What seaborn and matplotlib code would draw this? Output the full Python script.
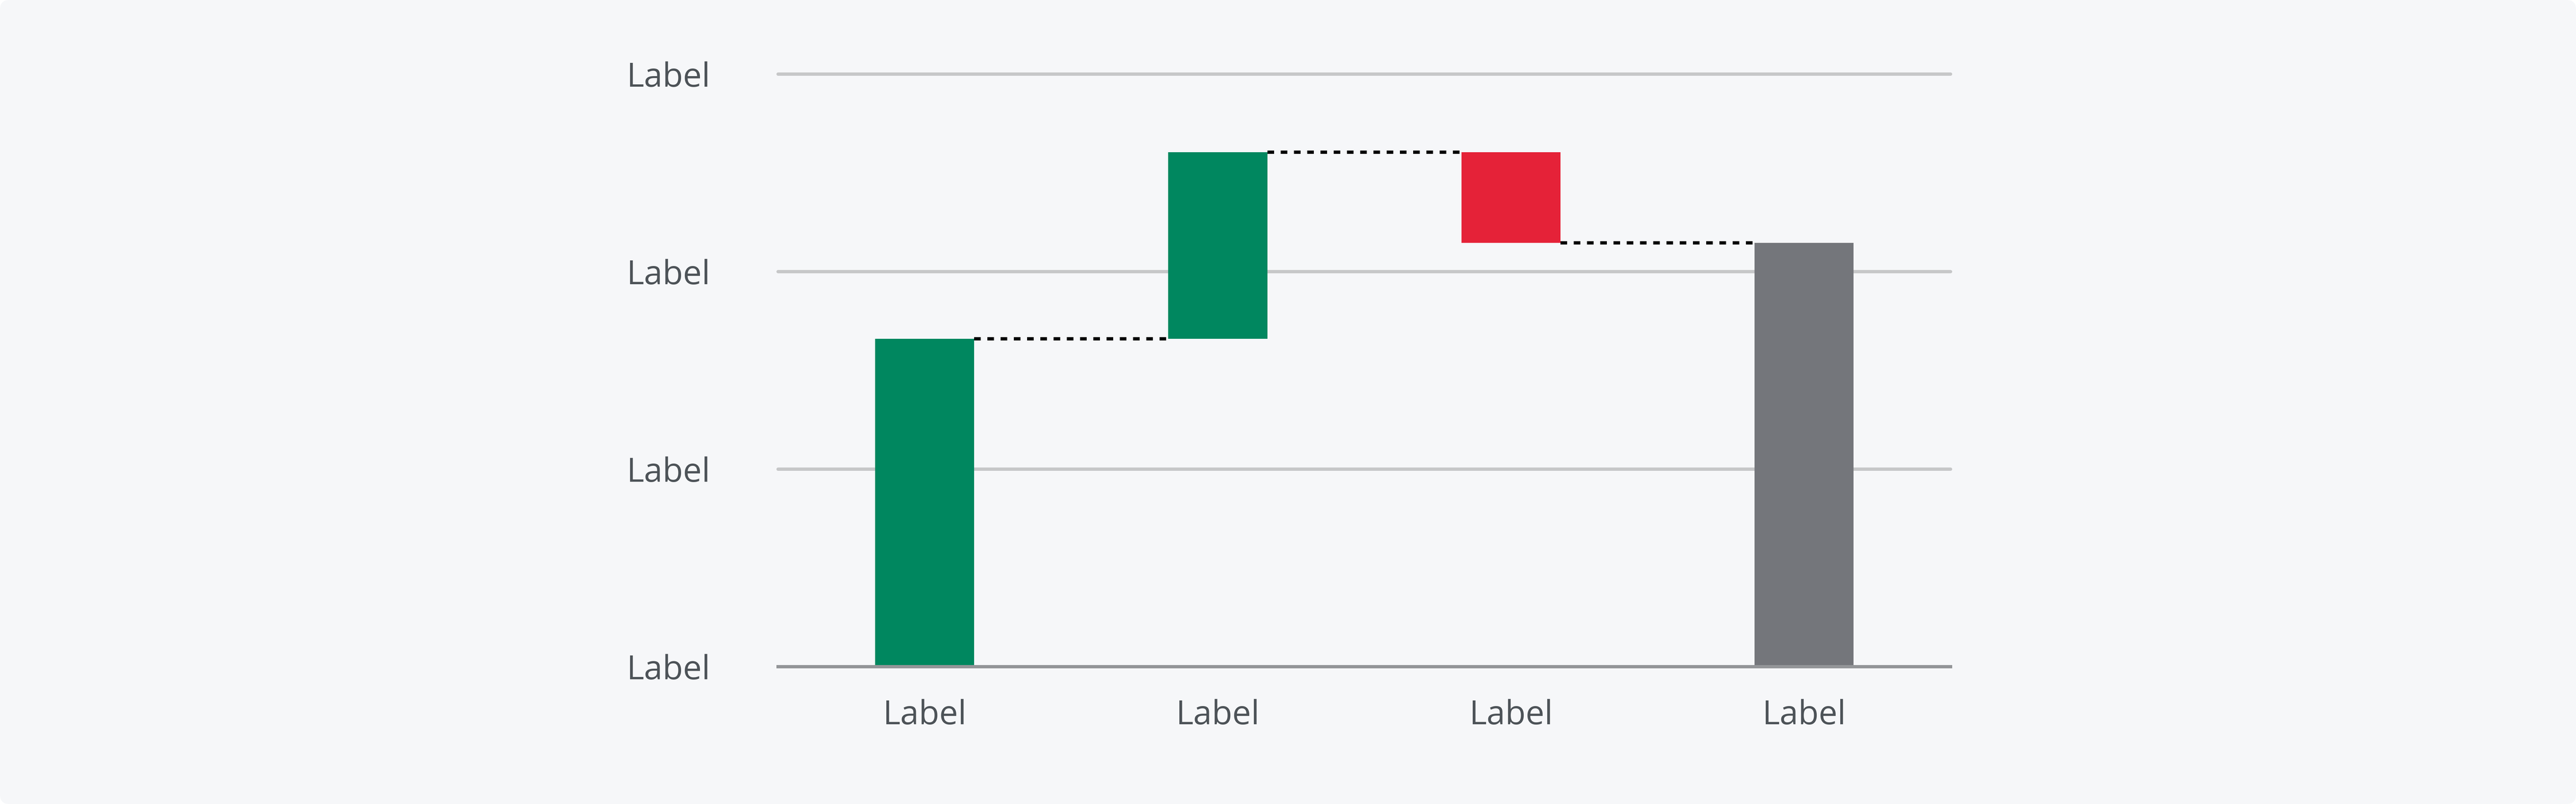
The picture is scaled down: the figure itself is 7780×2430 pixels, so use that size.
import pandas as pd
import seaborn as sns
import matplotlib.pyplot as plt
from matplotlib.patches import FancyBboxPatch

# data
categories = ["Label", "Label", "Label", "Label"]
steps = [1.66, 0.945, -0.46]          # start value, then changes
total = 2.145
y_ticks = [0, 1, 2, 3]
y_tick_labels = ["Label", "Label", "Label", "Label"]
colors = ["#00875F", "#00875F", "#E52238", "#74767B"]

# floating bar bottoms / heights
bottoms = [0, steps[0], steps[0] + steps[1], 0]
heights = [steps[0], steps[1], steps[2], total]
levels = [steps[0], steps[0] + steps[1], total]   # connector levels

df = pd.DataFrame({"pos": ["c0", "c1", "c2", "c3"], "height": heights})

sns.set_theme(style="white")
plt.rcParams["font.family"] = ["Open Sans", "DejaVu Sans"]

fig = plt.figure(figsize=(19.45, 6.075), dpi=400)
fig.patch.set_facecolor("white")
bg = FancyBboxPatch((0, 0), 1, 1, boxstyle="round,pad=0,rounding_size=0.0036",
                    transform=fig.transFigure, facecolor="#F6F7F9",
                    edgecolor="none", zorder=-10, mutation_aspect=7780 / 2430)
fig.patches.append(bg)

ax = fig.add_axes([0.30206, 0.17078, 0.45514, 0.73704])
ax.set_facecolor("none")

sns.barplot(data=df, x="pos", y="height", bottom=bottoms, width=0.338,
            color=colors[0], saturation=1, errorbar=None, ax=ax,
            zorder=3, linewidth=0)
for patch, c in zip(ax.patches, colors):
    patch.set_facecolor(c)

# dotted connectors between bar edges
w = 0.338
for i, lv in enumerate(levels):
    ax.plot([i + w / 2, i + 1 - w / 2], [lv, lv], color="black", lw=1.8,
            linestyle=(0, (2, 2)), dash_capstyle="butt", zorder=4)

ax.set_xlim(-0.5, 3.5)
ax.set_ylim(0, 3)
ax.set_yticks(y_ticks)
ax.set_yticklabels(y_tick_labels)
ax.set_xticks(range(len(categories)))
ax.set_xticklabels(categories)
ax.set_xlabel("")
ax.set_ylabel("")

ax.grid(axis="y", color="#C6C7C8", lw=1.8, zorder=0)
for line in ax.get_ygridlines():
    line.set_clip_on(False)

for s in ["top", "right", "left"]:
    ax.spines[s].set_visible(False)
ax.spines["bottom"].set_color("#939598")
ax.spines["bottom"].set_linewidth(1.8)
ax.spines["bottom"].set_zorder(5)

ax.tick_params(axis="both", length=0, labelsize=18.2, labelcolor="#4D5358")
ax.tick_params(axis="y", pad=37)
ax.tick_params(axis="x", pad=17.5)

fig.savefig("out.png", dpi=400, facecolor=fig.get_facecolor())
